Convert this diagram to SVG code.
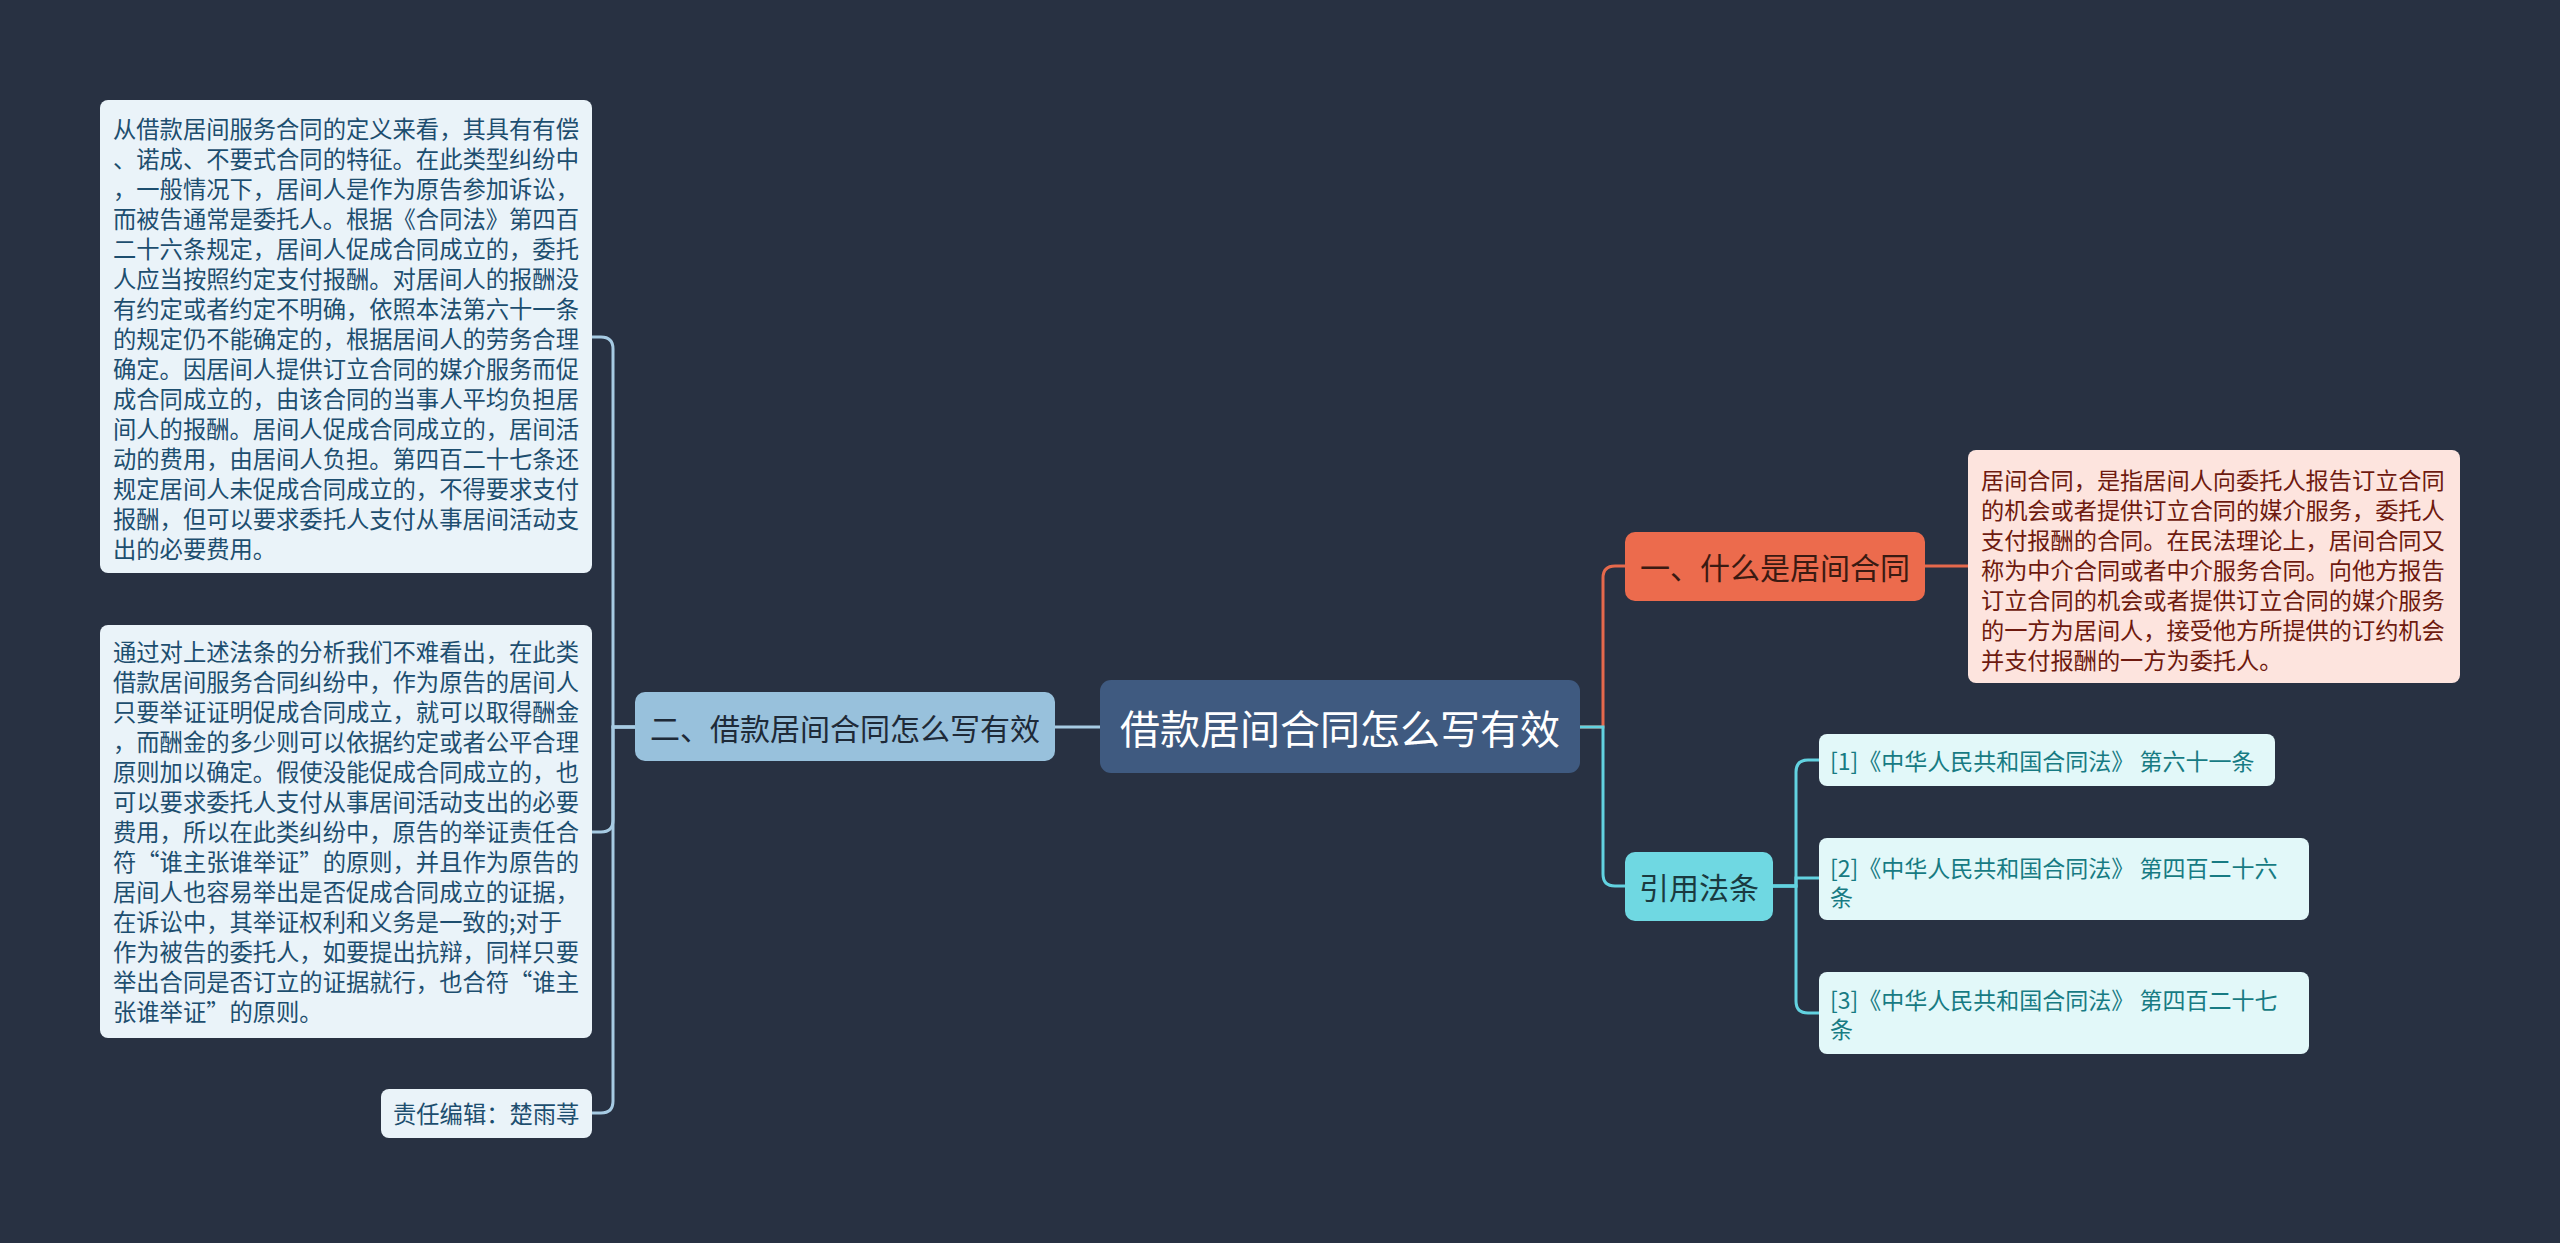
<svg xmlns="http://www.w3.org/2000/svg" width="2560" height="1243" viewBox="0 0 2560 1243">
<style>
text{font-family:"Noto Sans CJK SC","Noto Sans",sans-serif;dominant-baseline:central}
.conn{fill:none;stroke-width:3;stroke-linecap:round}
.lb{stroke:#a7cbe3}
.or{stroke:#e5694c}
.cy{stroke:#62d2e0}
.lbox{fill:#eaf3f9}
.ltxt{font-size:23.3px;fill:#1d4e6f}
.dtxt{font-size:23.2px;fill:#6e1a0f}
.ctxt{font-size:23px;fill:#177b83}
.cbox{fill:#e2f8f9}
</style>
<rect width="2560" height="1243" fill="#283142"/>
<g id="connectors">
<path class="conn lb" d="M1100 727 H1055"/>
<path class="conn lb" d="M635 727 H613 V349 Q613 337 601 337 H592"/>
<path class="conn lb" d="M635 727 H613 V820 Q613 832 601 832 H592"/>
<path class="conn lb" d="M635 727 H613 V1101 Q613 1113 601 1113 H592"/>
<path class="conn or" d="M1580 727 H1603 V578 Q1603 566 1615 566 H1625"/>
<path class="conn or" d="M1925 566 H1968"/>
<path class="conn cy" d="M1580 727 H1603 V874 Q1603 886 1615 886 H1625"/>
<path class="conn cy" d="M1773 886 H1796 V772 Q1796 760 1808 760 H1819"/>
<path class="conn cy" d="M1773 886 H1796 V878 H1819"/>
<path class="conn cy" d="M1773 886 H1796 V1001 Q1796 1013 1808 1013 H1819"/>
</g>
<g id="center">
<rect x="1100" y="680" width="480" height="93" rx="11" fill="#3f5a80"/>
<text x="1340" y="727" font-size="40" fill="#ffffff" text-anchor="middle">借款居间合同怎么写有效</text>
</g>
<g id="branch-left">
<rect x="635" y="692" width="420" height="69" rx="10" fill="#98c1dc"/>
<text x="845" y="727" font-size="30" fill="#1e2a38" text-anchor="middle">二、借款居间合同怎么写有效</text>
</g>
<g id="left-box-1">
<rect class="lbox" x="100" y="100" width="492" height="473" rx="8"/>
<text class="ltxt" x="113" y="128">从借款居间服务合同的定义来看，其具有有偿</text>
<text class="ltxt" x="113" y="158">、诺成、不要式合同的特征。在此类型纠纷中</text>
<text class="ltxt" x="113" y="188">，一般情况下，居间人是作为原告参加诉讼，</text>
<text class="ltxt" x="113" y="218">而被告通常是委托人。根据《合同法》第四百</text>
<text class="ltxt" x="113" y="248">二十六条规定，居间人促成合同成立的，委托</text>
<text class="ltxt" x="113" y="278">人应当按照约定支付报酬。对居间人的报酬没</text>
<text class="ltxt" x="113" y="308">有约定或者约定不明确，依照本法第六十一条</text>
<text class="ltxt" x="113" y="338">的规定仍不能确定的，根据居间人的劳务合理</text>
<text class="ltxt" x="113" y="368">确定。因居间人提供订立合同的媒介服务而促</text>
<text class="ltxt" x="113" y="398">成合同成立的，由该合同的当事人平均负担居</text>
<text class="ltxt" x="113" y="428">间人的报酬。居间人促成合同成立的，居间活</text>
<text class="ltxt" x="113" y="458">动的费用，由居间人负担。第四百二十七条还</text>
<text class="ltxt" x="113" y="488">规定居间人未促成合同成立的，不得要求支付</text>
<text class="ltxt" x="113" y="518">报酬，但可以要求委托人支付从事居间活动支</text>
<text class="ltxt" x="113" y="548">出的必要费用。</text>
</g>
<g id="left-box-2">
<rect class="lbox" x="100" y="625" width="492" height="413" rx="8"/>
<text class="ltxt" x="113" y="651">通过对上述法条的分析我们不难看出，在此类</text>
<text class="ltxt" x="113" y="681">借款居间服务合同纠纷中，作为原告的居间人</text>
<text class="ltxt" x="113" y="711">只要举证证明促成合同成立，就可以取得酬金</text>
<text class="ltxt" x="113" y="741">，而酬金的多少则可以依据约定或者公平合理</text>
<text class="ltxt" x="113" y="771">原则加以确定。假使没能促成合同成立的，也</text>
<text class="ltxt" x="113" y="801">可以要求委托人支付从事居间活动支出的必要</text>
<text class="ltxt" x="113" y="831">费用，所以在此类纠纷中，原告的举证责任合</text>
<text class="ltxt" x="113" y="861">符“谁主张谁举证”的原则，并且作为原告的</text>
<text class="ltxt" x="113" y="891">居间人也容易举出是否促成合同成立的证据，</text>
<text class="ltxt" x="113" y="921">在诉讼中，其举证权利和义务是一致的;对于</text>
<text class="ltxt" x="113" y="951">作为被告的委托人，如要提出抗辩，同样只要</text>
<text class="ltxt" x="113" y="981">举出合同是否订立的证据就行，也合符“谁主</text>
<text class="ltxt" x="113" y="1011">张谁举证”的原则。</text>
</g>
<g id="left-box-3">
<rect class="lbox" x="381" y="1089" width="211" height="49" rx="8"/>
<text class="ltxt" x="393" y="1113">责任编辑：楚雨荨</text>
</g>
<g id="branch-1">
<rect x="1625" y="532" width="300" height="69" rx="10" fill="#ec6b4d"/>
<text x="1775" y="566" font-size="30" fill="#3a1a12" text-anchor="middle">一、什么是居间合同</text>
</g>
<g id="detail-1">
<rect x="1968" y="450" width="492" height="233" rx="8" fill="#fde4de"/>
<text class="dtxt" x="1981" y="479">居间合同，是指居间人向委托人报告订立合同</text>
<text class="dtxt" x="1981" y="509">的机会或者提供订立合同的媒介服务，委托人</text>
<text class="dtxt" x="1981" y="539">支付报酬的合同。在民法理论上，居间合同又</text>
<text class="dtxt" x="1981" y="569">称为中介合同或者中介服务合同。向他方报告</text>
<text class="dtxt" x="1981" y="599">订立合同的机会或者提供订立合同的媒介服务</text>
<text class="dtxt" x="1981" y="629">的一方为居间人，接受他方所提供的订约机会</text>
<text class="dtxt" x="1981" y="659">并支付报酬的一方为委托人。</text>
</g>
<g id="branch-2">
<rect x="1625" y="852" width="148" height="69" rx="10" fill="#6fd8e2"/>
<text x="1699" y="886" font-size="30" fill="#1a3a40" text-anchor="middle">引用法条</text>
</g>
<g id="cite-1">
<rect class="cbox" x="1819" y="734" width="456" height="52" rx="8"/>
<text class="ctxt" x="1830" y="760">[1]《中华人民共和国合同法》 第六十一条</text>
</g>
<g id="cite-2">
<rect class="cbox" x="1819" y="838" width="490" height="82" rx="8"/>
<text class="ctxt" x="1830" y="867">[2]《中华人民共和国合同法》 第四百二十六</text>
<text class="ctxt" x="1830" y="896">条</text>
</g>
<g id="cite-3">
<rect class="cbox" x="1819" y="972" width="490" height="82" rx="8"/>
<text class="ctxt" x="1830" y="999">[3]《中华人民共和国合同法》 第四百二十七</text>
<text class="ctxt" x="1830" y="1028">条</text>
</g>
</svg>
